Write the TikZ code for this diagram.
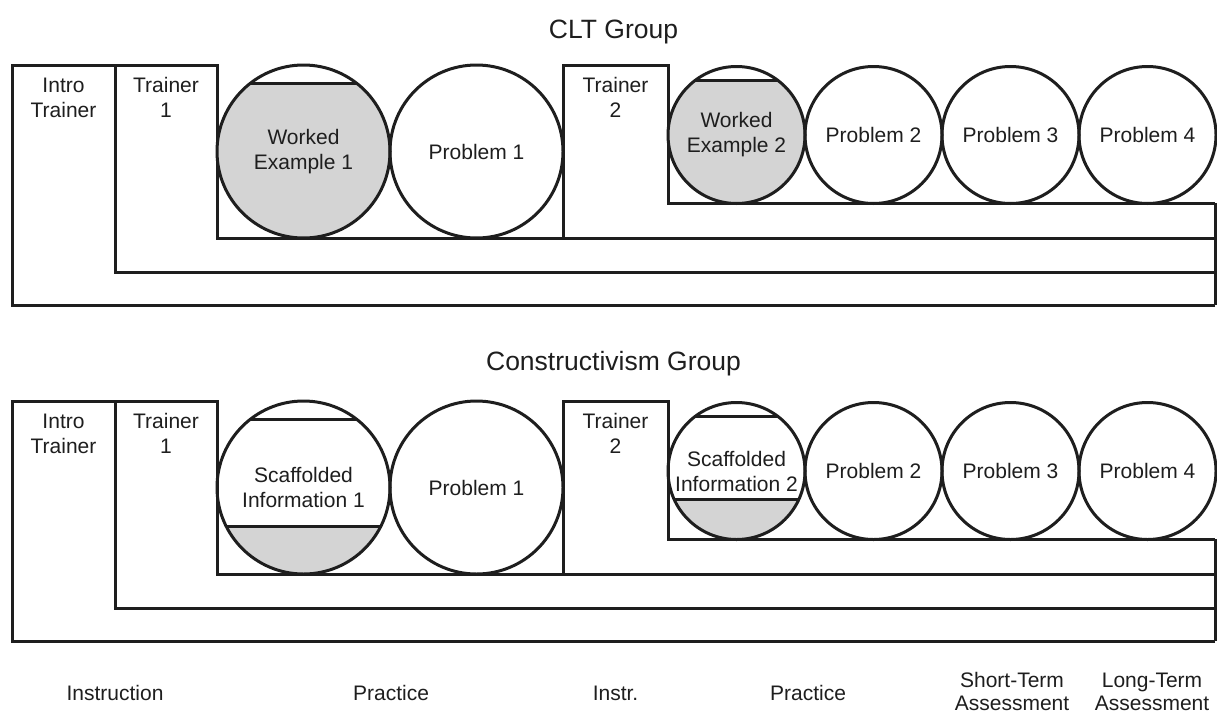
\documentclass[tikz,border=0pt]{standalone}
\usepackage{fontspec}
\setmainfont{Liberation Sans}
\definecolor{lc}{HTML}{1E1E1E}
\definecolor{shd}{HTML}{D4D4D4}
\tikzset{
  ln/.style={draw=lc, line width=3pt, line join=miter},
  circ/.style={circle, draw=lc, line width=3pt, inner sep=0pt, align=center, text=lc,
    font=\fontsize{21}{25}\selectfont},
  lab/.style={inner sep=0pt, align=center, text=lc, font=\fontsize{21}{25}\selectfont},
  ttl/.style={inner sep=0pt, text=lc, font=\fontsize{26.5}{30}\selectfont},
  bot/.style={inner sep=0pt, align=center, text=lc, font=\fontsize{21}{23}\selectfont},
}
\begin{document}
\begin{tikzpicture}[x=1pt,y=-1pt]
\useasboundingbox (0,0) rectangle (1217,715);
\fill[white] (0,0) rectangle (1217,715);

% ---------------- CLT group ----------------
\node[ttl, anchor=base] (t-title) at (613.5,38) {CLT Group};
\draw[ln] (1215,305) -- (12,305) -- (12,65) -- (217,65) -- (217,238) -- (1215,238);
\draw[ln] (115,65) -- (115,272) -- (1215,272);
\draw[ln] (563,238) -- (563,65) -- (668,65) -- (668,203) -- (1215,203);
\draw[ln] (1215,203) -- (1215,305);
\node[lab] (t-intro) at (63.5,97.5) {Intro\\Trainer};
\node[lab] (t-tr1) at (166,97.5) {Trainer\\1};
\node[lab] (t-tr2) at (615.5,97.5) {Trainer\\2};
% shaded worked examples
\begin{scope}
  \clip (303.5,151.5) circle[radius=86.5pt];
  \fill[shd] (200,83) rectangle (410,250);
  \draw[ln] (200,83) -- (410,83);
\end{scope}
\begin{scope}
  \clip (736.5,135) circle[radius=68.5pt];
  \fill[shd] (660,80) rectangle (820,210);
  \draw[ln] (660,80) -- (820,80);
\end{scope}
\node[circ, minimum size=173pt] (t-we1) at (303.5,151.5) {Worked\\Example 1};
\node[circ, minimum size=173pt] (t-p1) at (476.5,151.5) {Problem 1};
\node[circ, minimum size=137pt] (t-we2) at (736.5,135) {Worked\\Example 2};
\node[circ, minimum size=137pt] (t-p2) at (873.5,135) {Problem 2};
\node[circ, minimum size=137pt] (t-p3) at (1010.5,135) {Problem 3};
\node[circ, minimum size=137pt] (t-p4) at (1147.5,135) {Problem 4};

% ---------------- Constructivism group ----------------
\begin{scope}[yshift=-336pt]
\node[ttl, anchor=base] (b-title) at (613.5,34) {Constructivism Group};
\draw[ln] (1215,305) -- (12,305) -- (12,65) -- (217,65) -- (217,238) -- (1215,238);
\draw[ln] (115,65) -- (115,272) -- (1215,272);
\draw[ln] (563,238) -- (563,65) -- (668,65) -- (668,203) -- (1215,203);
\draw[ln] (1215,203) -- (1215,305);
\node[lab] (b-intro) at (63.5,97.5) {Intro\\Trainer};
\node[lab] (b-tr1) at (166,97.5) {Trainer\\1};
\node[lab] (b-tr2) at (615.5,97.5) {Trainer\\2};
\begin{scope}
  \clip (303.5,151.5) circle[radius=86.5pt];
  \fill[shd] (200,190) rectangle (410,250);
  \draw[ln] (200,83) -- (410,83);
  \draw[ln] (200,190) -- (410,190);
\end{scope}
\begin{scope}
  \clip (736.5,135) circle[radius=68.5pt];
  \fill[shd] (660,163) rectangle (820,210);
  \draw[ln] (660,80) -- (820,80);
  \draw[ln] (660,163) -- (820,163);
\end{scope}
\node[circ, minimum size=173pt] (b-sc1) at (303.5,151.5) {Scaffolded\\Information 1};
\node[circ, minimum size=173pt] (b-p1) at (476.5,151.5) {Problem 1};
\node[circ, minimum size=137pt] (b-sc2) at (736.5,135) {Scaffolded\\Information 2};
\node[circ, minimum size=137pt] (b-p2) at (873.5,135) {Problem 2};
\node[circ, minimum size=137pt] (b-p3) at (1010.5,135) {Problem 3};
\node[circ, minimum size=137pt] (b-p4) at (1147.5,135) {Problem 4};
\end{scope}

% ---------------- phase labels ----------------
\node[bot, anchor=base] (l-instr) at (115,700.5) {Instruction};
\node[bot, anchor=base] (l-prac1) at (391,700.5) {Practice};
\node[bot, anchor=base] (l-instr2) at (615.5,700.5) {Instr.};
\node[bot, anchor=base] (l-prac2) at (808,700.5) {Practice};
\node[bot] (l-short) at (1012,691.5) {Short-Term\\Assessment};
\node[bot] (l-long) at (1152,691.5) {Long-Term\\Assessment};
\end{tikzpicture}
\end{document}
